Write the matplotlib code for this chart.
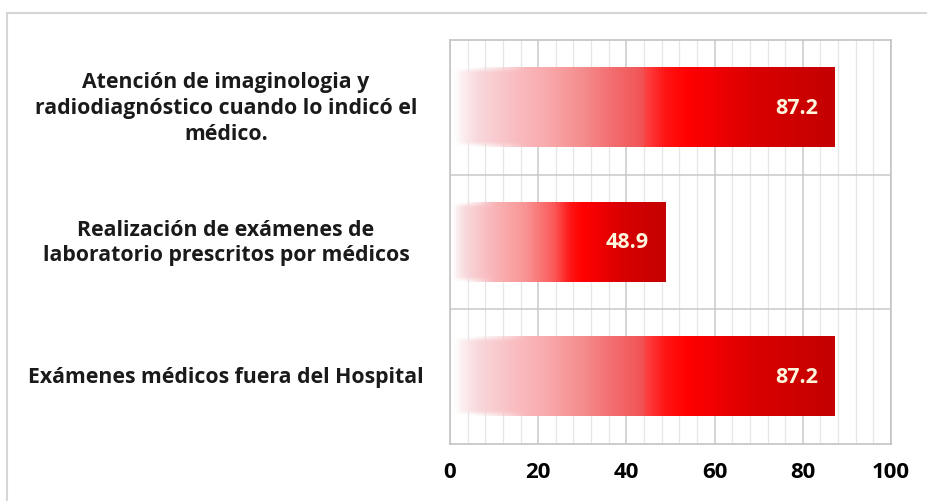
import matplotlib.pyplot as plt
import numpy as np
from matplotlib.colors import LinearSegmentedColormap, to_rgb
from matplotlib.patches import Rectangle
from matplotlib.transforms import blended_transform_factory

categories = [
    'Atención de imaginologia y\nradiodiagnóstico cuando lo indicó el\nmédico.',
    'Realización de exámenes de\nlaboratorio prescritos por médicos',
    'Exámenes médicos fuera del Hospital',
]
values = [87.2, 48.9, 87.2]
x_ticks = [0, 20, 40, 60, 80, 100]

plt.rcParams['font.family'] = ['Open Sans', 'DejaVu Sans']

# red fade used inside every bar, in bar-relative coordinates
bar_cmap = LinearSegmentedColormap.from_list('bar_red', [
    (0.00, '#ffffff'),
    (0.07, '#f8d8dc'),
    (0.17, '#f9bcc0'),
    (0.35, '#f99494'),
    (0.48, '#fb5a5a'),
    (0.56, '#ff1414'),
    (0.62, '#ff0000'),
    (0.80, '#d80000'),
    (1.00, '#c40000'),
])
seam_at = 44.0   # the pale half of long bars is drawn a little duller
seam_tint = np.array(to_rgb('#e05c62'))


def gradient_image(length, nx=400, ny=60):
    xf = np.linspace(0, 1, nx)
    yf = np.linspace(0, 1, ny)
    rgba = bar_cmap(np.tile(xf, (ny, 1)))
    f_seam = seam_at / length
    if f_seam < 0.56:
        w = np.clip((xf - 0.25) / (f_seam - 0.25), 0, 1) * 0.4
        w[xf >= f_seam] = 0
        rgba[..., :3] = (1 - w)[None, :, None] * rgba[..., :3] \
            + w[None, :, None] * seam_tint
    alpha_x = np.clip(xf / 0.03, 0, 1)
    # soft top/bottom edges on the pale side of the bar
    edge = np.minimum(yf, 1 - yf)[:, None]
    soft = np.clip(edge / 0.06, 0, 1)
    soft = soft + (1 - soft) * np.clip((xf[None, :] - 0.05) / 0.15, 0, 1)
    rgba[..., 3] = alpha_x[None, :] * soft
    return rgba


fig = plt.figure(figsize=(9.28, 5.02), dpi=100)
ax = fig.add_axes([450 / 928, 1 - 445 / 502, 441 / 928, 404 / 502])

bar_h = 0.59
for i, v in enumerate(values):
    ax.imshow(gradient_image(v), extent=[0, v, i + bar_h / 2, i - bar_h / 2],
              aspect='auto', interpolation='bilinear', zorder=3)
    ax.text(v - 3.8, i, f'{v:.1f}', ha='right', va='center', color='#fff6de',
            fontsize=15.5, fontweight='bold', zorder=4)

ax.set_xlim(0, 100)
ax.set_ylim(len(values) - 0.5, -0.5)
ax.set_xticks(x_ticks)
ax.set_xticks(np.arange(0, 101, 4), minor=True)
ax.set_yticks([0.5, 1.5])
ax.set_yticklabels([])
ax.grid(True, which='major', color='#c9c9c9', lw=1.1, zorder=1)
ax.grid(True, which='minor', axis='x', color='#e6e6e6', lw=0.9, zorder=0)
ax.tick_params(which='both', length=0)
ax.tick_params(axis='x', pad=12, labelsize=16)
for lbl in ax.get_xticklabels():
    lbl.set_fontweight('bold')
for s in ax.spines.values():
    s.set_color('#c4c4c4')
    s.set_linewidth(1.2)

# category labels centred in the left column
trans = blended_transform_factory(fig.transFigure, ax.transData)
for i, c in enumerate(categories):
    ax.text(226 / 928, i, c, transform=trans, ha='center', va='center',
            multialignment='center', fontsize=15.3, fontweight='bold',
            color='#1a1a1a', linespacing=1.3)

# outer chart frame
fig.patches.append(Rectangle((7 / 928, -0.1), 1.1, 1 - 14 / 502 + 0.1,
                             transform=fig.transFigure, fill=False,
                             edgecolor='#d6d6d6', lw=1.5))

fig.savefig('out.png', dpi=100)
